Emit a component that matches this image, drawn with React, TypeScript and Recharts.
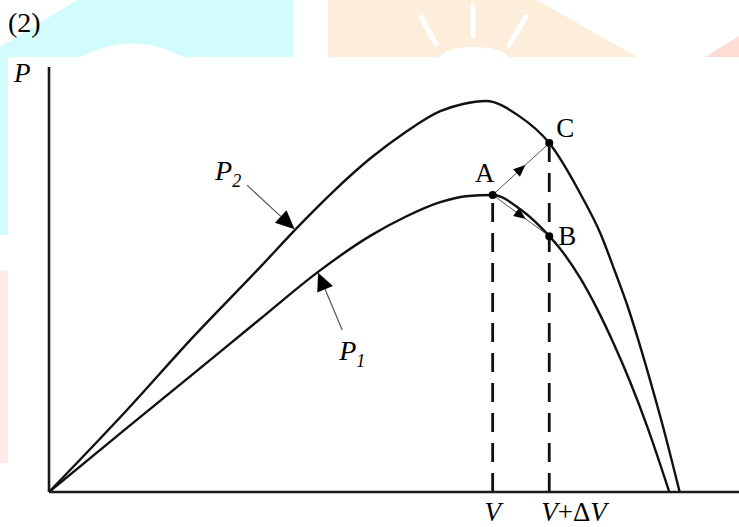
import React from 'react';
import { ComposedChart, Line, XAxis, YAxis, ReferenceLine, ReferenceDot } from 'recharts';

// Curve P2 (upper curve): voltage (x) and power (y), in arbitrary units 0..100
const P2_V = [0, 11.3, 20.9, 30.6, 35.9, 41.2, 46.5, 51.6, 56.7, 60.0, 63.3, 68.1, 72.5, 77.2, 79.9, 82.0, 83.8, 85.4, 87.1, 89.0, 91.4];
const P2_P = [0, 19.3, 36.5, 52.9, 62.1, 70.7, 78.4, 84.6, 89.6, 91.3, 92.0, 88.5, 82.1, 69.6, 60.9, 52.0, 44.0, 35.8, 26.4, 15.3, 0];

// Curve P1 (lower curve)
const P1_V = [0, 11.3, 20.9, 30.6, 39.0, 46.5, 51.6, 56.7, 60.4, 64.3, 68.4, 72.5, 74.1, 77.0, 79.4, 81.7, 84.2, 86.7, 89.9];
const P1_P = [0, 15.1, 27.8, 40.7, 51.8, 60.2, 64.7, 68.2, 69.6, 69.9, 66.4, 60.2, 57.2, 50.3, 43.2, 35.4, 26.0, 15.4, 0];

// Operating points
const V_OP = 64.3;
const V_STEP = 72.5;
const P_A = 69.9;
const P_B = 60.2;
const P_C = 82.1;

// Curve-name pointer arrows: [fromV, fromP, toV, toP]
const P2_POINTER = [28.7, 72.2, 35.6, 61.8];
const P1_POINTER = [42.5, 38.1, 39.0, 51.6];

const p2Data = P2_V.map((v, i) => ({ v, p: P2_P[i] }));
const p1Data = P1_V.map((v, i) => ({ v, p: P1_P[i] }));

const SERIF = '"Liberation Serif", "Times New Roman", serif';
const INK = '#111';
const AXIS = '#1a1a1a';

type ArrowOpts = { head: number; halfW: number; mid: boolean; stroke: string; width: number; label?: (x: number, y: number) => React.ReactNode };

const makeArrow = (o: ArrowOpts) => (props: any) => {
  const { x1, y1, x2, y2 } = props;
  const dx = x2 - x1;
  const dy = y2 - y1;
  const len = Math.hypot(dx, dy) || 1;
  const ux = dx / len;
  const uy = dy / len;
  const tipT = o.mid ? len / 2 + o.head / 2 : len;
  const tx = x1 + ux * tipT;
  const ty = y1 + uy * tipT;
  const bx = tx - ux * o.head;
  const by = ty - uy * o.head;
  const px = -uy;
  const py = ux;
  const pts = `${tx},${ty} ${bx + px * o.halfW},${by + py * o.halfW} ${bx - px * o.halfW},${by - py * o.halfW}`;
  const lineEndX = o.mid ? x2 : bx;
  const lineEndY = o.mid ? y2 : by;
  return (
    <g>
      <line x1={x1} y1={y1} x2={lineEndX} y2={lineEndY} stroke={o.stroke} strokeWidth={o.width} />
      <polygon points={pts} fill="#000" />
      {o.label ? o.label(x1, y1) : null}
    </g>
  );
};

const pointShape = (name: string, dx: number, dy: number) => (props: any) => (
  <g>
    <circle cx={props.cx} cy={props.cy} r={4} fill="#000" />
    <text x={props.cx + dx} y={props.cy + dy} textAnchor="middle" fontFamily={SERIF} fontSize={27} fill="#000">
      {name}
    </text>
  </g>
);

const tickLabel = (content: React.ReactNode, anchor: 'middle' | 'start', dx: number) => (props: any) => (
  <text x={props.cx + dx} y={props.cy + 29} textAnchor={anchor} fontFamily={SERIF} fontStyle="italic" fontSize={27} fill="#000">
    {content}
  </text>
);

const Watermark = () => (
  <svg width={739} height={527} style={{ position: 'absolute', left: 0, top: 0 }}>
    <path d="M0,47 L77,0 L293,0 L293,57 L183,57 Q133,30 80,57 L8,57 L8,235 L0,235 Z" fill="#d2fbfb" />
    <path d="M328,0 L537,0 L637,57 L328,57 Z" fill="#fdeddb" />
    <ellipse cx={474} cy={58} rx={34} ry={11} fill="#fff" />
    <line x1={473} y1={3} x2={473} y2={38} stroke="#fff" strokeWidth={5} />
    <line x1={420} y1={15} x2={437} y2={46} stroke="#fff" strokeWidth={5} />
    <line x1={527} y1={15} x2={508} y2={47} stroke="#fff" strokeWidth={5} />
    <path d="M705,57 L739,36 L739,57 Z" fill="#fcdcd4" />
    <rect x={0} y={271} width={8} height={192} fill="#fde9e9" />
  </svg>
);

export default function App() {
  return (
    <div style={{ position: 'absolute', left: 0, top: 0, width: 739, height: 527, background: '#fff' }}>
      <Watermark />
      <div style={{ position: 'absolute', left: 0, top: 0 }}>
        <ComposedChart width={739} height={527} margin={{ top: 67, right: 0, bottom: 34, left: 48 }}>
          <XAxis
            type="number"
            dataKey="v"
            domain={[0, 100]}
            allowDataOverflow
            tick={false}
            tickLine={false}
            height={1}
            axisLine={{ stroke: AXIS, strokeWidth: 2.6 }}
          />
          <YAxis
            type="number"
            dataKey="p"
            domain={[0, 100]}
            allowDataOverflow
            tick={false}
            tickLine={false}
            width={1}
            axisLine={{ stroke: AXIS, strokeWidth: 2.6 }}
          />
          <ReferenceLine
            segment={[{ x: V_OP, y: 0 }, { x: V_OP, y: P_A }]}
            stroke={INK}
            strokeWidth={2.8}
            strokeDasharray="19 11"
          />
          <ReferenceLine
            segment={[{ x: V_STEP, y: 0 }, { x: V_STEP, y: P_C }]}
            stroke={INK}
            strokeWidth={2.8}
            strokeDasharray="19 11"
          />
          <Line data={p2Data} dataKey="p" type="monotone" dot={false} activeDot={false} stroke={INK} strokeWidth={2.4} isAnimationActive={false} />
          <Line data={p1Data} dataKey="p" type="monotone" dot={false} activeDot={false} stroke={INK} strokeWidth={2.4} isAnimationActive={false} />
          <ReferenceLine
            segment={[{ x: V_OP, y: P_A }, { x: V_STEP, y: P_C }]}
            shape={makeArrow({ head: 12, halfW: 5, mid: true, stroke: '#555', width: 1 })}
          />
          <ReferenceLine
            segment={[{ x: V_OP, y: P_A }, { x: V_STEP, y: P_B }]}
            shape={makeArrow({ head: 12, halfW: 5, mid: true, stroke: '#555', width: 1 })}
          />
          <ReferenceLine
            segment={[{ x: P2_POINTER[0], y: P2_POINTER[1] }, { x: P2_POINTER[2], y: P2_POINTER[3] }]}
            shape={makeArrow({
              head: 19,
              halfW: 8.5,
              mid: false,
              stroke: '#555',
              width: 1.2,
              label: (x, y) => (
                <text x={x - 32} y={y - 5} fontFamily={SERIF} fontStyle="italic" fontSize={28} fill="#000">
                  P<tspan fontSize={18} dy={7}>2</tspan>
                </text>
              ),
            })}
          />
          <ReferenceLine
            segment={[{ x: P1_POINTER[0], y: P1_POINTER[1] }, { x: P1_POINTER[2], y: P1_POINTER[3] }]}
            shape={makeArrow({
              head: 18,
              halfW: 8.5,
              mid: false,
              stroke: '#555',
              width: 1.2,
              label: (x, y) => (
                <text x={x - 3} y={y + 30} fontFamily={SERIF} fontStyle="italic" fontSize={28} fill="#000">
                  P<tspan fontSize={18} dy={7}>1</tspan>
                </text>
              ),
            })}
          />
          <ReferenceDot x={V_OP} y={P_A} shape={pointShape('A', -8, -13)} />
          <ReferenceDot x={V_STEP} y={P_B} shape={pointShape('B', 18, 9)} />
          <ReferenceDot x={V_STEP} y={P_C} shape={pointShape('C', 16, -6)} />
          <ReferenceDot x={V_OP} y={0} shape={tickLabel('V', 'middle', 0)} />
          <ReferenceDot
            x={V_STEP}
            y={0}
            shape={tickLabel(
              <>
                V<tspan fontStyle="normal">+Δ</tspan>V
              </>,
              'start',
              -8
            )}
          />
        </ComposedChart>
      </div>
      <div style={{ position: 'absolute', left: 8, top: 7, fontFamily: SERIF, fontSize: 28, lineHeight: '32px', color: '#000' }}>(2)</div>
      <div style={{ position: 'absolute', left: 14, top: 58, fontFamily: SERIF, fontStyle: 'italic', fontSize: 27, lineHeight: '30px', color: '#000' }}>P</div>
    </div>
  );
}
